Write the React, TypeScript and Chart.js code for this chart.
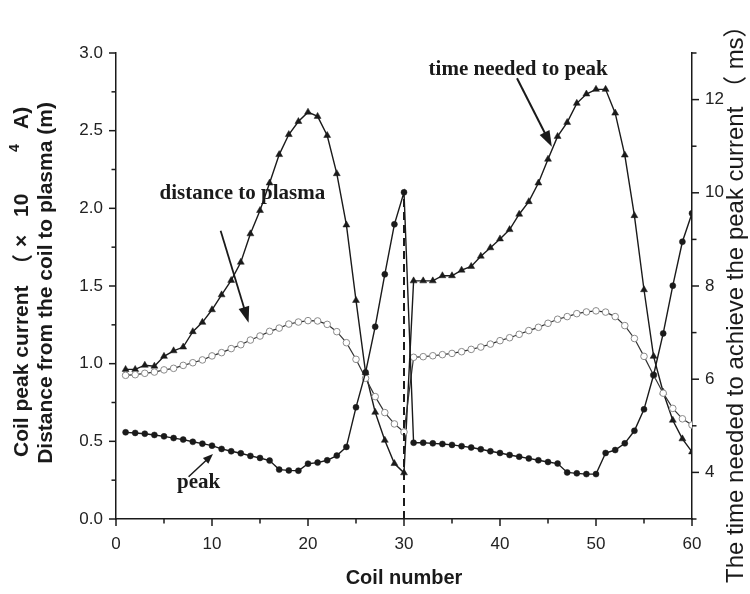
import React, { useEffect, useRef } from 'react';
import { Chart, registerables } from 'chart.js';

Chart.register(...registerables);

// ---- data ----
const coils = [1, 2, 3, 4, 5, 6, 7, 8, 9, 10, 11, 12, 13, 14, 15, 16, 17, 18, 19, 20, 21, 22, 23, 24, 25, 26, 27, 28, 29, 30, 31, 32, 33, 34, 35, 36, 37, 38, 39, 40, 41, 42, 43, 44, 45, 46, 47, 48, 49, 50, 51, 52, 53, 54, 55, 56, 57, 58, 59, 60];

const peakCurrent = [0.558, 0.554, 0.549, 0.541, 0.532, 0.521, 0.511, 0.497, 0.485, 0.472, 0.451, 0.436, 0.423, 0.406, 0.393, 0.376, 0.318, 0.313, 0.311, 0.356, 0.363, 0.378, 0.408, 0.464, 0.719, 0.944, 1.238, 1.575, 1.897, 2.103, 0.491, 0.491, 0.487, 0.483, 0.477, 0.469, 0.46, 0.449, 0.436, 0.425, 0.412, 0.401, 0.39, 0.378, 0.367, 0.357, 0.3, 0.294, 0.289, 0.289, 0.425, 0.444, 0.487, 0.568, 0.706, 0.927, 1.195, 1.502, 1.785, 1.968];

const distanceToPlasma = [0.925, 0.929, 0.938, 0.946, 0.96, 0.97, 0.989, 1.006, 1.024, 1.05, 1.071, 1.097, 1.122, 1.152, 1.178, 1.208, 1.229, 1.255, 1.268, 1.277, 1.275, 1.253, 1.206, 1.135, 1.028, 0.906, 0.788, 0.685, 0.612, 0.56, 1.041, 1.045, 1.051, 1.058, 1.066, 1.077, 1.092, 1.107, 1.126, 1.148, 1.167, 1.189, 1.213, 1.234, 1.26, 1.286, 1.303, 1.322, 1.333, 1.34, 1.332, 1.303, 1.245, 1.162, 1.047, 0.926, 0.81, 0.712, 0.645, 0.605];

const timeToPeak = [6.21, 6.21, 6.3, 6.28, 6.49, 6.61, 6.69, 7.02, 7.22, 7.49, 7.81, 8.12, 8.51, 9.12, 9.62, 10.21, 10.82, 11.25, 11.53, 11.73, 11.64, 11.23, 10.41, 9.31, 7.69, 6.14, 5.29, 4.69, 4.19, 3.99, 8.11, 8.11, 8.11, 8.22, 8.22, 8.34, 8.42, 8.64, 8.82, 9.01, 9.21, 9.54, 9.81, 10.21, 10.72, 11.21, 11.51, 11.92, 12.12, 12.22, 12.22, 11.71, 10.81, 9.51, 7.92, 6.49, 5.72, 5.12, 4.72, 4.44];

const xTicks = [0, 10, 20, 30, 40, 50, 60];
const xMinorTicks = [5, 15, 25, 35, 45, 55];
const leftTicks = [0, 0.5, 1.0, 1.5, 2.0, 2.5, 3.0];
const leftMinorTicks = [0.25, 0.75, 1.25, 1.75, 2.25, 2.75];
const rightTicks = [4, 6, 8, 10, 12];
const rightMinorTicks = [3, 5, 7, 9, 11, 13];
const dashedCoil = 30;

const xTitle = 'Coil number';
const leftTitle1Parts = ['Coil peak current', '（', '×', '10', '4', 'A)'];
const leftTitle2 = 'Distance from the coil to plasma (m)';
const rightTitle = 'The time needed to achieve the peak current （ ms）';

const labelDistance = 'distance to plasma';
const labelTime = 'time needed to peak';
const labelPeak = 'peak';

const SANS = '"Liberation Sans", Arial, "Noto Sans CJK SC", sans-serif';
const CJK = '"Noto Sans CJK SC", sans-serif';
const SERIF = '"Liberation Serif", "Times New Roman", serif';
const INK = '#1a1a1a';

function drawArrow(ctx: CanvasRenderingContext2D, x1: number, y1: number, x2: number, y2: number, hl: number, hw: number, lw: number) {
  const a = Math.atan2(y2 - y1, x2 - x1);
  const bx = x2 - hl * Math.cos(a);
  const by = y2 - hl * Math.sin(a);
  ctx.lineWidth = lw;
  ctx.beginPath();
  ctx.moveTo(x1, y1);
  ctx.lineTo(bx + Math.cos(a) * 2, by + Math.sin(a) * 2);
  ctx.stroke();
  ctx.beginPath();
  ctx.moveTo(x2, y2);
  ctx.lineTo(bx + (hw / 2) * Math.sin(a), by - (hw / 2) * Math.cos(a));
  ctx.lineTo(bx - (hw / 2) * Math.sin(a), by + (hw / 2) * Math.cos(a));
  ctx.closePath();
  ctx.fill();
}

const overlayPlugin = {
  id: 'overlay',
  afterDatasetsDraw(chart: any) {
    const { ctx } = chart;
    const x = chart.scales.x;
    const y = chart.scales.y;
    ctx.save();
    const idx = coils.indexOf(dashedCoil);
    ctx.strokeStyle = INK;
    ctx.lineWidth = 2;
    ctx.setLineDash([8, 5]);
    ctx.beginPath();
    ctx.moveTo(x.getPixelForValue(dashedCoil), y.getPixelForValue(0));
    ctx.lineTo(x.getPixelForValue(dashedCoil), y.getPixelForValue(peakCurrent[idx]));
    ctx.stroke();
    ctx.setLineDash([]);
    ctx.restore();
  },
  afterDraw(chart: any) {
    const { ctx, chartArea } = chart;
    const x = chart.scales.x;
    const y = chart.scales.y;
    const y1 = chart.scales.y1;
    const L = 7;
    const Lm = 4.5;
    ctx.save();
    ctx.strokeStyle = INK;
    ctx.lineWidth = 1.5;
    const seg = (ax: number, ay: number, bx: number, by: number) => {
      ctx.beginPath();
      ctx.moveTo(ax, ay);
      ctx.lineTo(bx, by);
      ctx.stroke();
    };
    xTicks.forEach((v) => { const p = x.getPixelForValue(v); seg(p, chartArea.bottom, p, chartArea.bottom + L); });
    xMinorTicks.forEach((v) => { const p = x.getPixelForValue(v); seg(p, chartArea.bottom, p, chartArea.bottom + Lm); });
    leftTicks.forEach((v) => { const p = y.getPixelForValue(v); seg(chartArea.left, p, chartArea.left - L, p); });
    leftMinorTicks.forEach((v) => { const p = y.getPixelForValue(v); seg(chartArea.left, p, chartArea.left - Lm, p); });
    rightTicks.forEach((v) => { const p = y1.getPixelForValue(v); seg(chartArea.right, p, chartArea.right + L, p); });
    rightMinorTicks.forEach((v) => { const p = y1.getPixelForValue(v); seg(chartArea.right, p, chartArea.right + Lm, p); });

    // axis titles
    ctx.fillStyle = INK;
    ctx.textAlign = 'center';
    ctx.textBaseline = 'middle';
    ctx.font = `bold 20px ${SANS}`;
    ctx.fillText(xTitle, (chartArea.left + chartArea.right) / 2, 578);

    // left title, line 1 (drawn piecewise, wide spacing as in the source)
    ctx.save();
    ctx.translate(22, 457);
    ctx.rotate(-Math.PI / 2);
    ctx.textAlign = 'left';
    ctx.textBaseline = 'middle';
    ctx.font = `bold 21px ${SANS}`;
    ctx.fillText(leftTitle1Parts[0], 0, 0);
    ctx.font = `bold 21px ${CJK}`;
    ctx.fillText(leftTitle1Parts[1], 182, 0);
    ctx.font = `bold 21px ${SANS}`;
    ctx.fillText(leftTitle1Parts[2], 210, 0);
    ctx.fillText(leftTitle1Parts[3], 240, 0);
    ctx.font = `bold 14px ${SANS}`;
    ctx.fillText(leftTitle1Parts[4], 305, -7);
    ctx.font = `bold 21px ${SANS}`;
    ctx.fillText(leftTitle1Parts[5], 328, 0);
    ctx.restore();

    ctx.save();
    ctx.translate(46, 283);
    ctx.rotate(-Math.PI / 2);
    ctx.font = `bold 21px ${SANS}`;
    ctx.fillText(leftTitle2, 0, 0);
    ctx.restore();

    ctx.save();
    ctx.translate(736, 583);
    ctx.rotate(-Math.PI / 2);
    ctx.textAlign = 'left';
    ctx.font = `24px ${SANS}`;
    ctx.fillText(rightTitle, 0, 0);
    ctx.restore();

    // annotations
    ctx.font = `bold 21px ${SERIF}`;
    ctx.textAlign = 'left';
    ctx.fillText(labelDistance, x.getPixelForValue(4.54), y.getPixelForValue(2.097));
    ctx.fillText(labelTime, x.getPixelForValue(32.56), y.getPixelForValue(2.895));
    ctx.fillText(labelPeak, x.getPixelForValue(6.35), y.getPixelForValue(0.232));

    ctx.strokeStyle = INK;
    drawArrow(ctx, x.getPixelForValue(10.9), y.getPixelForValue(1.855), x.getPixelForValue(13.81), y.getPixelForValue(1.264), 16, 11, 1.8);
    drawArrow(ctx, x.getPixelForValue(41.77), y.getPixelForValue(2.837), x.getPixelForValue(45.4), y.getPixelForValue(2.397), 16, 11, 2);
    drawArrow(ctx, x.getPixelForValue(7.56), y.getPixelForValue(0.272), x.getPixelForValue(10.1), y.getPixelForValue(0.418), 10, 8, 1.5);
    ctx.restore();
  },
};

export default function App() {
  const ref = useRef<HTMLCanvasElement | null>(null);
  useEffect(() => {
    document.body.style.margin = '0';
    const canvas = ref.current!;
    const pts = (arr: number[]) => coils.map((c, i) => ({ x: c, y: arr[i] }));
    const chart = new Chart(canvas, {
      type: 'line',
      data: {
        datasets: [
          {
            label: 'peak',
            data: pts(peakCurrent),
            yAxisID: 'y',
            borderColor: INK,
            borderWidth: 1.4,
            pointStyle: 'circle',
            pointRadius: 3,
            pointBackgroundColor: INK,
            pointBorderColor: INK,
            pointBorderWidth: 0.5,
            tension: 0,
          },
          {
            label: 'distance',
            data: pts(distanceToPlasma),
            yAxisID: 'y',
            borderColor: '#333',
            borderWidth: 1.2,
            pointStyle: 'circle',
            pointRadius: 3.3,
            pointBackgroundColor: '#fff',
            pointBorderColor: '#8a8a8a',
            pointBorderWidth: 1,
            tension: 0,
          },
          {
            label: 'time',
            data: pts(timeToPeak),
            yAxisID: 'y1',
            borderColor: INK,
            borderWidth: 1.4,
            pointStyle: 'triangle',
            pointRadius: 4,
            pointBackgroundColor: INK,
            pointBorderColor: INK,
            pointBorderWidth: 0.5,
            tension: 0,
          },
        ],
      },
      options: {
        responsive: false,
        animation: false,
        events: [],
        layout: { padding: { top: 53, left: 0, right: 0, bottom: 0 } },
        plugins: { legend: { display: false }, tooltip: { enabled: false }, title: { display: false } },
        scales: {
          x: {
            type: 'linear',
            min: 0,
            max: 60,
            afterBuildTicks: (s: any) => { s.ticks = xTicks.map((v) => ({ value: v })); },
            afterFit: (s: any) => { s.height = 75; },
            grid: { display: false, drawTicks: false },
            border: { display: true, color: INK, width: 1.5 },
            ticks: { font: { family: SANS, size: 17 }, color: '#222', padding: 15, maxRotation: 0, callback: (v: any) => String(v) },
          },
          y: {
            type: 'linear',
            position: 'left',
            min: 0,
            max: 3,
            afterBuildTicks: (s: any) => { s.ticks = leftTicks.map((v) => ({ value: v })); },
            afterFit: (s: any) => { s.width = 116; },
            grid: { display: false, drawTicks: false },
            border: { display: true, color: INK, width: 1.5 },
            ticks: { font: { family: SANS, size: 17 }, color: '#222', padding: 13, callback: (v: any) => Number(v).toFixed(1) },
          },
          y1: {
            type: 'linear',
            position: 'right',
            min: 3,
            max: 13,
            afterBuildTicks: (s: any) => { s.ticks = rightTicks.map((v) => ({ value: v })); },
            afterFit: (s: any) => { s.width = 58; },
            grid: { display: false, drawTicks: false },
            border: { display: true, color: INK, width: 1.5 },
            ticks: { font: { family: SANS, size: 17 }, color: '#222', padding: 13, callback: (v: any) => String(v) },
          },
        },
      },
      plugins: [overlayPlugin],
    });
    return () => chart.destroy();
  }, []);
  return <canvas ref={ref} width={750} height={594} style={{ display: 'block', width: 750, height: 594 }} />;
}
